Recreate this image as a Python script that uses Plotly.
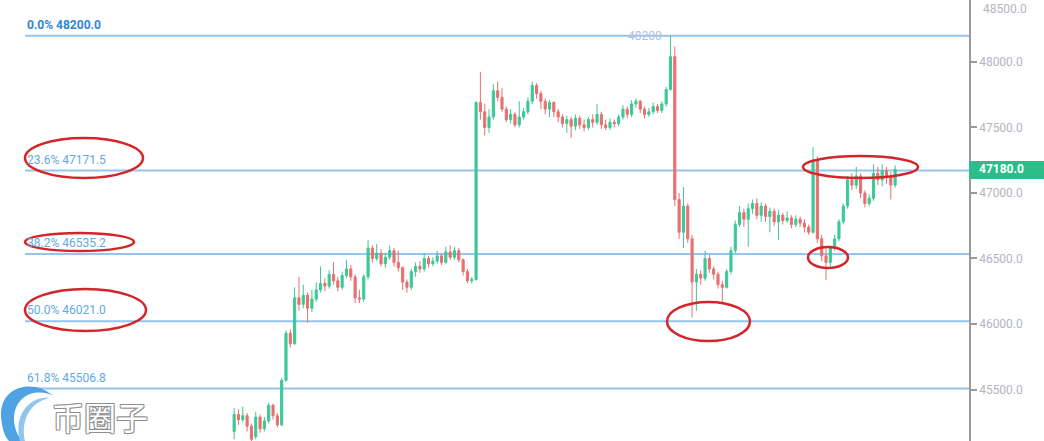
import plotly.graph_objects as go

# ---------------- data ----------------
open_ = [45180, 45310, 45270, 45300, 45220, 45140, 45290, 45200, 45260, 45380, 45300,
         45230, 45570, 45930,
         45850, 46200, 46150, 46220, 46120,
         46190, 46260, 46310, 46290, 46380, 46330, 46280, 46370, 46420,
         46360, 46200, 46190, 46360,
         46580, 46500, 46540, 46460, 46510, 46560, 46470,
         46430, 46320, 46280,
         46400, 46440, 46420, 46500, 46460, 46480, 46520, 46470, 46550, 46510, 46560,
         46490, 46400, 46330,
         46340, 47690,
         47620, 47500, 47580, 47780, 47730, 47640, 47560, 47600, 47520, 47580,
         47620, 47700, 47820, 47760, 47700, 47640, 47690, 47620, 47580, 47530,
         47560, 47510, 47570, 47520, 47500, 47560, 47540, 47600, 47520, 47500,
         47540, 47530, 47580, 47640, 47600, 47680, 47700, 47640, 47600, 47620,
         47660, 47630, 47680,
         47790,
         48040, 46950, 46700, 46900, 46650,
         46320, 46380, 46350, 46500, 46420, 46380, 46300, 46280, 46400, 46560,
         46760, 46850, 46800, 46880, 46920, 46830, 46900, 46820, 46860, 46780,
         46830, 46790, 46810, 46760, 46800, 46770, 46740,
         46700, 47250, 46650, 46520,
         46470, 46580, 46650, 46780, 46900, 47100, 47060, 47130, 47000, 46920,
         46960, 47150, 47100, 47170, 47120, 47060]
high = [45360, 45350, 45370, 45320, 45240, 45330, 45310, 45290, 45400, 45390, 45320,
        45590, 45950, 45960,
        46280, 46360, 46300, 46240, 46260,
        46320, 46440, 46350, 46410, 46470, 46360, 46400, 46490, 46450,
        46380, 46260, 46380, 46640,
        46600, 46610, 46570, 46540, 46600, 46580, 46560,
        46440, 46340, 46420,
        46470, 46480, 46540, 46520, 46510, 46560, 46540, 46590, 46600, 46590, 46580,
        46500, 46420, 46360,
        47700, 47925,
        47680, 47640, 47830, 47850, 47800, 47660, 47640, 47620, 47700, 47650,
        47730, 47850, 47840, 47780, 47720, 47710, 47700, 47640, 47600, 47590,
        47580, 47600, 47590, 47560, 47580, 47600, 47680, 47620, 47560, 47570,
        47560, 47600, 47670, 47660, 47710, 47720, 47710, 47660, 47650, 47690,
        47680, 47700, 47810,
        48200,
        48120, 47000, 47045, 46920, 46680,
        46420, 46410, 46560, 46530, 46440, 46400, 46330, 46420, 46590, 46790,
        46900, 46880, 46920, 46950, 46960, 46930, 46920, 46890, 46880, 46870,
        46850, 46860, 46830, 46830, 46820, 46800, 46760,
        47350, 47280, 46680, 46580,
        46600, 46680, 46800, 46920, 47130, 47150, 47200, 47150, 47020, 46990,
        47220, 47200, 47220, 47200, 47160, 47210]
low = [45120, 45230, 45250, 45180, 45100, 45120, 45170, 45180, 45240, 45270, 45210,
       45220, 45560, 45820,
       45840, 46100, 46120, 46010, 46090,
       46170, 46240, 46250, 46270, 46300, 46250, 46260, 46350, 46330,
       46160, 46160, 46170, 46340,
       46470, 46480, 46440, 46430, 46490, 46440, 46400,
       46260, 46240, 46260,
       46360, 46390, 46400, 46430, 46440, 46460, 46450, 46460, 46490, 46490, 46470,
       46370, 46310, 46310,
       46330, 47560,
       47440, 47460, 47560, 47700, 47620, 47540, 47530, 47500, 47500, 47560,
       47600, 47680, 47720, 47640, 47600, 47580, 47580, 47540, 47500, 47460,
       47420, 47480, 47490, 47470, 47480, 47500, 47520, 47490, 47480, 47480,
       47500, 47510, 47560, 47570, 47580, 47650, 47610, 47570, 47580, 47600,
       47610, 47610, 47660,
       47780,
       46900, 46650, 46580, 46620, 46050,
       46100, 46300, 46330, 46390, 46340, 46270, 46160, 46270, 46380, 46540,
       46740, 46740, 46590, 46840, 46800, 46780, 46780, 46700, 46750, 46640,
       46760, 46770, 46730, 46740, 46740, 46700, 46680,
       46690, 46620, 46480, 46335,
       46440, 46560, 46630, 46760, 46880, 47020, 47030, 46960, 46890, 46900,
       46940, 47060, 47050, 47070, 46950, 47040]
close = [45310, 45270, 45300, 45220, 45120, 45290, 45200, 45260, 45380, 45300, 45230,
         45570, 45930, 45850,
         46200, 46150, 46220, 46120, 46190,
         46260, 46310, 46290, 46380, 46330, 46280, 46370, 46420, 46360,
         46200, 46190, 46360, 46580,
         46500, 46540, 46460, 46510, 46560, 46470, 46430,
         46320, 46280, 46400,
         46440, 46420, 46500, 46460, 46480, 46520, 46470, 46550, 46510, 46560, 46490,
         46400, 46330, 46340,
         47690, 47620,
         47500, 47580, 47780, 47730, 47640, 47560, 47600, 47520, 47580, 47620,
         47700, 47820, 47760, 47700, 47640, 47690, 47620, 47580, 47530, 47560,
         47510, 47570, 47520, 47500, 47560, 47540, 47600, 47520, 47500, 47540,
         47530, 47580, 47640, 47600, 47680, 47700, 47640, 47600, 47620, 47660,
         47630, 47680, 47790,
         48040,
         46950, 46700, 46900, 46650, 46320,
         46380, 46350, 46500, 46420, 46380, 46300, 46280, 46400, 46560, 46760,
         46850, 46800, 46880, 46920, 46830, 46900, 46820, 46860, 46780, 46830,
         46790, 46810, 46760, 46800, 46770, 46740, 46700,
         47250, 46650, 46520, 46470,
         46580, 46650, 46780, 46900, 47100, 47060, 47130, 47000, 46920, 46960,
         47150, 47100, 47170, 47120, 47060, 47180]

fib_levels = [48200.0, 47171.5, 46535.2, 46021.0, 45506.8]
fib_labels = ["0.0% 48200.0", "23.6% 47171.5", "38.2% 46535.2", "50.0% 46021.0", "61.8% 45506.8"]
y_ticks = [45500, 46000, 46500, 47000, 47500, 48000]
top_tick_label = "48500.0"
last_price = 47180.0
peak_label = "48200"
watermark = "币圈子"

# ---------------- figure ----------------
W, H = 1044, 441
ML, MR = 0, 75
PW = W - ML - MR


def px(x):
    return x / PW


def py(y):
    return 1 - y / H


idx = list(range(len(close)))

fig = go.Figure()
fig.add_trace(go.Candlestick(
    x=idx, open=open_, high=high, low=low, close=close,
    increasing=dict(line=dict(color="#3cc896", width=1), fillcolor="#3cc896"),
    decreasing=dict(line=dict(color="#e87070", width=1), fillcolor="#e87070"),
    whiskerwidth=0, showlegend=False, hoverinfo="skip",
))

shapes = []
annotations = []

# Fibonacci lines and labels
for i, (lvl, lab) in enumerate(zip(fib_levels, fib_labels)):
    shapes.append(dict(type="line", xref="paper", yref="y", x0=px(25), x1=1,
                       y0=lvl, y1=lvl, line=dict(color="#93c5ee", width=2), layer="below"))
    annotations.append(dict(
        xref="paper", yref="y", x=px(25), y=lvl, xanchor="left", yanchor="bottom",
        yshift=2, text=(f"<b>{lab}</b>" if i == 0 else lab), showarrow=False,
        font=dict(family="Roboto", size=12, color=("#2f86d8" if i == 0 else "#62a9e3"))))

# peak label
annotations.append(dict(xref="x", yref="y", x=102, y=48200, xanchor="right", yanchor="middle",
                        xshift=-4, text=peak_label + " -", showarrow=False,
                        font=dict(family="Roboto", size=12, color="#b4c0de")))

# red ellipses
for (x0, x1, y0, y1) in [(25, 143, 138, 178), (25, 134, 233, 251), (25, 146, 289, 331),
                         (667, 750, 302, 341), (808, 848, 247, 268), (803, 918, 156, 178)]:
    shapes.append(dict(type="circle", xref="paper", yref="paper",
                       x0=px(x0), x1=px(x1), y0=py(y1), y1=py(y0),
                       line=dict(color="#d3252a", width=2.5)))

# price tag on right axis
shapes.append(dict(type="rect", xref="paper", yref="paper", x0=1, x1=W / PW,
                   y0=py(179), y1=py(161), fillcolor="#2dbd8a", line=dict(width=0)))
annotations.append(dict(xref="paper", yref="y", x=1 + 8 / PW, y=last_price, xanchor="left",
                        yanchor="middle", text=f"<b>{last_price:.1f}</b>", showarrow=False,
                        font=dict(family="Roboto", size=12, color="white")))
# top tick label (at the very top edge)
annotations.append(dict(xref="paper", yref="paper", x=1 + 12 / PW, y=1, xanchor="left",
                        yanchor="top", text=top_tick_label, showarrow=False,
                        font=dict(family="Roboto", size=12, color="#b5b5bd")))

# watermark logo (crescent)
def pth(points):
    s = ""
    for cmd, coords in points:
        s += cmd + " " + " ".join(f"{px(a):.5f},{py(b):.5f}" for a, b in coords) + " "
    return s + "Z"

shapes.append(dict(type="path", xref="paper", yref="paper",
                   path=pth([("M", [(53, 396)]), ("C", [(36, 379), (0, 384), (1, 416)]),
                             ("C", [(2, 429), (5, 437), (9, 441)]), ("L", [(22, 441)]),
                             ("C", [(9, 424), (12, 401), (30, 394)]),
                             ("C", [(40, 391), (48, 393), (53, 396)])]),
                   fillcolor="#4fa3e3", line=dict(width=0)))
shapes.append(dict(type="path", xref="paper", yref="paper",
                   path=pth([("M", [(49, 398)]), ("C", [(30, 396), (13, 415), (20, 441)]),
                             ("L", [(25, 441)]), ("C", [(20, 418), (32, 402), (49, 398)])]),
                   fillcolor="#8fc6ef", line=dict(width=0)))
annotations.append(dict(xref="paper", yref="paper", x=px(100), y=py(416), xanchor="center",
                        yanchor="middle", text=watermark, showarrow=False,
                        font=dict(family="Noto Sans CJK SC", size=32, color="white",
                                  shadow="1px 1px 0 #8f8f8f, -1px -1px 0 #8f8f8f, 1px -1px 0 #8f8f8f, -1px 1px 0 #8f8f8f")))

fig.update_layout(
    width=W, height=H,
    margin=dict(l=ML, r=MR, t=0, b=0),
    paper_bgcolor="white", plot_bgcolor="white",
    shapes=shapes, annotations=annotations,
    xaxis=dict(range=[-54.2, 170.1], visible=False, rangeslider=dict(visible=False),
               showgrid=False, zeroline=False),
    yaxis=dict(range=[45107, 48473], side="right", showgrid=False, zeroline=False,
               tickvals=y_ticks, ticktext=[f"{v:.1f}" for v in y_ticks],
               ticks="outside", ticklen=6, tickcolor="#9a9a9a", tickwidth=1.5,
               showline=True, linecolor="#9a9a9a", linewidth=1.5,
               tickfont=dict(family="Roboto", size=12, color="#b5b5bd")),
)

fig.write_html("out.html", config={"displayModeBar": False},
               post_script="document.body.style.margin='0';document.body.style.overflow='hidden';")
